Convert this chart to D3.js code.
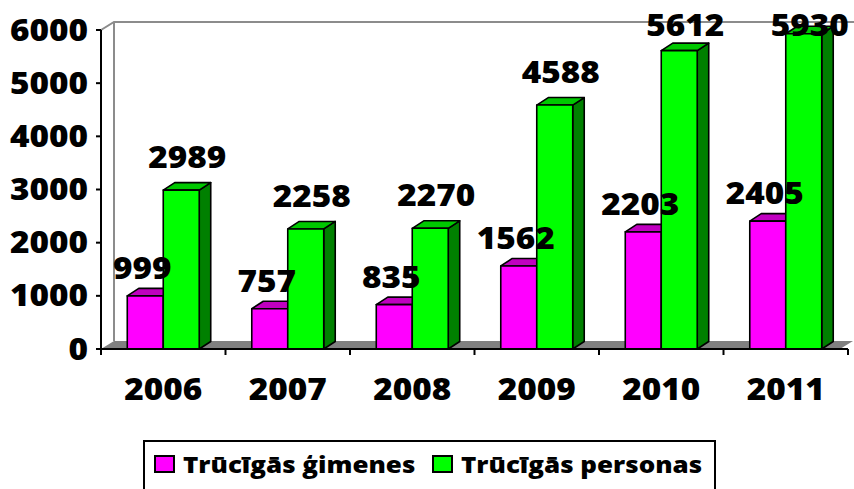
<!DOCTYPE html>
<html>
<head>
<meta charset="utf-8">
<script src="https://cdn.jsdelivr.net/npm/d3@7"></script>
<style>
  html, body { margin: 0; padding: 0; background: #fff; }
  svg { display: block; }
  text { font-family: "Open Sans", sans-serif; font-weight: 800; fill: #000; }
</style>
</head>
<body>
<svg id="chart" width="854" height="489"></svg>
<script>
// ---- data ----
const years = ["2006", "2007", "2008", "2009", "2010", "2011"];
const seriesNames = ["Trūcīgās ģimenes", "Trūcīgās personas"];
const families = [999, 757, 835, 1562, 2203, 2405];
const persons = [2989, 2258, 2270, 4588, 5612, 5930];
const yTicks = [0, 1000, 2000, 3000, 4000, 5000, 6000];

// ---- layout ----
const plotL = 101, plotR = 848, plotB = 349, plotT = 30;
const wallDX = 13, wallDY = -8;
const barDX = 11.5, barDY = -7.5;
const sx = 1.13; // horizontal text stretch
const colors = [
  { front: "#FF00FF", top: "#C000C0", side: "#800080" },
  { front: "#00FF00", top: "#00C800", side: "#008000" }
];

const svg = d3.select("#chart");

const y = d3.scaleLinear().domain([0, 6000]).range([plotB, plotT]);
const x0 = d3.scaleBand().domain(years).range([plotL, plotR]).paddingInner(0).paddingOuter(0);
const x1 = d3.scaleBand().domain(seriesNames).range([0, x0.bandwidth()]).paddingInner(0).paddingOuter(0.73);

function stretchedText(g, xPos, yPos, str, size, anchor, scaleX) {
  return g.append("text")
    .attr("transform", `translate(${xPos},${yPos}) scale(${scaleX || sx},1)`)
    .attr("text-anchor", anchor)
    .style("font-size", size + "px")
    .text(str);
}

// ---- walls / floor ----
const wallRight = plotR + wallDX - 8;
svg.append("polygon")
  .attr("points", [[plotL, plotB], [plotL + wallDX, plotB + wallDY], [wallRight, plotB + wallDY], [wallRight - wallDX, plotB]].join(" "))
  .attr("fill", "#808080");
svg.append("path")
  .attr("d", `M${plotL},${y(6000)} L${plotL + wallDX},${y(6000) + wallDY} L${plotR + 20},${y(6000) + wallDY}`)
  .attr("fill", "none").attr("stroke", "#8c8c8c").attr("stroke-width", 2);
svg.append("line")
  .attr("x1", plotL + wallDX).attr("x2", plotL + wallDX)
  .attr("y1", y(6000) + wallDY).attr("y2", plotB + wallDY)
  .attr("stroke", "#8c8c8c").attr("stroke-width", 2);

// ---- bars ----
const data = years.map((yr, i) => ({ year: yr, vals: [families[i], persons[i]] }));
const gBars = svg.append("g");
data.forEach(d => {
  d.vals.forEach((v, s) => {
    const bx = x0(d.year) + x1(seriesNames[s]);
    const bw = x1.bandwidth();
    const by = y(v);
    const c = colors[s];
    const g = gBars.append("g").attr("stroke", "#000").attr("stroke-width", 1.6).attr("stroke-linejoin", "round");
    g.append("polygon")
      .attr("points", [[bx + bw, by], [bx + bw + barDX, by + barDY], [bx + bw + barDX, plotB + barDY], [bx + bw, plotB]].join(" "))
      .attr("fill", c.side);
    g.append("polygon")
      .attr("points", [[bx, by], [bx + barDX, by + barDY], [bx + bw + barDX, by + barDY], [bx + bw, by]].join(" "))
      .attr("fill", c.top);
    g.append("rect")
      .attr("x", bx).attr("y", by).attr("width", bw).attr("height", plotB - by)
      .attr("fill", c.front);
  });
});

// ---- axes ----
svg.append("line").attr("x1", plotL).attr("x2", plotL).attr("y1", plotT).attr("y2", plotB)
  .attr("stroke", "#000").attr("stroke-width", 2);
svg.append("line").attr("x1", plotL).attr("x2", plotR).attr("y1", plotB).attr("y2", plotB)
  .attr("stroke", "#000").attr("stroke-width", 2);
yTicks.forEach(t => {
  svg.append("line").attr("x1", plotL - 5).attr("x2", plotL).attr("y1", y(t)).attr("y2", y(t))
    .attr("stroke", "#000").attr("stroke-width", 2);
  stretchedText(svg, 88, y(t) + 10.5, String(t), 29.5, "end");
});
const bounds = years.map(yr => x0(yr)).concat([plotR]);
bounds.forEach(bx => {
  svg.append("line").attr("x1", bx).attr("x2", bx).attr("y1", plotB).attr("y2", plotB + 6)
    .attr("stroke", "#000").attr("stroke-width", 2);
});
years.forEach(yr => {
  stretchedText(svg, x0(yr) + x0.bandwidth() / 2, 400, yr, 29.5, "middle");
});

// ---- data labels ----
const labelGap = [17, 22];
const labelShift = [-3, 6];
data.forEach(d => {
  d.vals.forEach((v, s) => {
    const bx = x0(d.year) + x1(seriesNames[s]);
    const cx = bx + x1.bandwidth() / 2 + labelShift[s];
    const base = Math.max(y(v) - labelGap[s], 36);
    stretchedText(svg, cx, base, String(v), 29.5, "middle");
  });
});

// ---- legend ----
const lg = svg.append("g");
lg.append("rect").attr("x", 144).attr("y", 441).attr("width", 571).attr("height", 70)
  .attr("fill", "#fff").attr("stroke", "#000").attr("stroke-width", 2);
const legendItems = [{ x: 155 }, { x: 433 }];
seriesNames.forEach((name, s) => {
  const lx = legendItems[s].x;
  lg.append("rect").attr("x", lx).attr("y", 456).attr("width", 19).attr("height", 16)
    .attr("fill", colors[s].front).attr("stroke", "#000").attr("stroke-width", 2);
  stretchedText(lg, lx + 28, 473, name, 22, "start", 1.18);
});
</script>
</body>
</html>
